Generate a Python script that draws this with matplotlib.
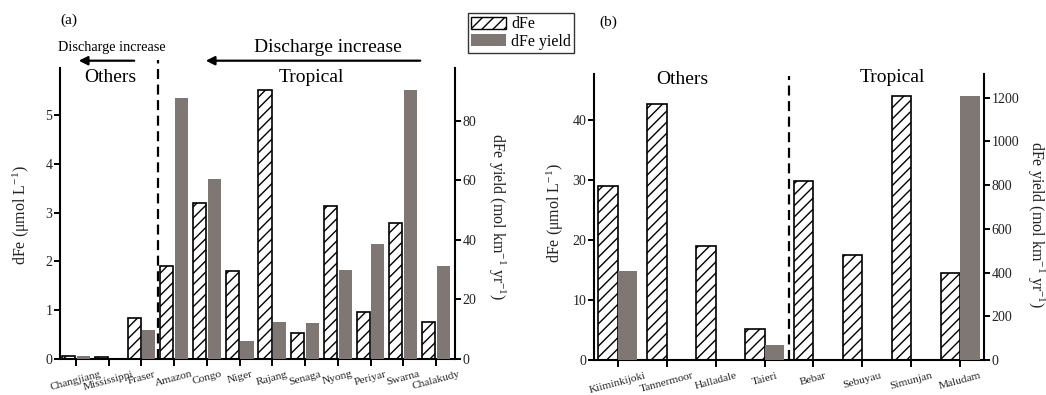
import numpy as np
import matplotlib
matplotlib.use("Agg")
import matplotlib.pyplot as plt
from matplotlib.patches import Patch

plt.rcParams['font.family'] = ['Liberation Serif', 'DejaVu Serif']
plt.rcParams['mathtext.fontset'] = 'custom'
plt.rcParams['mathtext.rm'] = 'Liberation Serif'
plt.rcParams['mathtext.it'] = 'Liberation Serif:italic'
plt.rcParams['hatch.linewidth'] = 1.0

# ---------------- data ----------------
rivers_a = ["Changjiang", "Mississippi", "Fraser", "Amazon", "Congo", "Niger",
            "Rajang", "Senaga", "Nyong", "Periyar", "Swarna", "Chalakudy"]
dfe_a = [0.05, 0.04, 0.83, 1.90, 3.20, 1.79, 5.51, 0.53, 3.13, 0.95, 2.79, 0.75]
yield_a = [0.8, 0.0, 9.6, 87.9, 60.6, 5.8, 12.4, 11.9, 29.9, 38.5, 90.6, 31.3]

rivers_b = ["Kiiminkijoki", "Tannermoor", "Halladale", "Taieri",
            "Bebar", "Sebuyau", "Simunjan", "Maludam"]
dfe_b = [29.1, 42.7, 19.0, 5.1, 29.8, 17.5, 44.1, 14.5]
yield_b = [408, np.nan, np.nan, 67, np.nan, np.nan, np.nan, 1209]

left_ticks_a = [0, 1, 2, 3, 4, 5]
right_ticks_a = [0, 20, 40, 60, 80]
left_ticks_b = [0, 10, 20, 30, 40]
right_ticks_b = [0, 200, 400, 600, 800, 1000, 1200]

GRAY = '#7e7774'
TXT = '#222222'
W, H = 1046, 395

fig = plt.figure(figsize=(W / 100, H / 100), dpi=100)
fig.patch.set_facecolor('white')


def px(x0, y0, x1, y1):
    return [x0 / W, 1 - y1 / H, (x1 - x0) / W, (y1 - y0) / H]


def setup(ax, ax2):
    for s in ['top', 'right']:
        ax.spines[s].set_visible(False)
    for s in ['top', 'left', 'bottom']:
        ax2.spines[s].set_visible(False)
    for a in (ax, ax2):
        for s in a.spines.values():
            s.set_linewidth(1.5)
        a.tick_params(axis='y', direction='out', length=4, width=1.4, labelsize=10,
                      labelcolor=TXT, pad=1.5)
    ax.tick_params(axis='x', direction='out', length=5, width=1.4, pad=3)


def panel(rect, names, dfe, yld, off, width, xlim, ylim_l, ylim_r, lt, rt, split, dash_top):
    ax = fig.add_axes(rect)
    ax2 = ax.twinx()
    x = np.arange(len(names))
    ax.bar(x - off, dfe, width, facecolor='white', edgecolor='black',
           hatch='///', linewidth=1.2, zorder=2)
    ax2.bar(x + off, yld, width, color=GRAY, linewidth=0, zorder=2)
    ax.set_xlim(*xlim)
    ax.set_ylim(0, ylim_l)
    ax2.set_ylim(0, ylim_r)
    ax.set_yticks(lt)
    ax2.set_yticks(rt)
    ax.set_xticks(x)
    ax.set_xticklabels(names, rotation=15, ha='center', fontsize=8.2, color=TXT)
    setup(ax, ax2)
    ax.axvline(split, 0, dash_top, color='black', lw=1.6,
               linestyle=(0, (4.5, 2.5)), clip_on=False, zorder=3)
    return ax, ax2


ax_a, ax_a2 = panel(px(60, 68, 455, 358.5), rivers_a, dfe_a, yield_a, 0.225, 0.40,
                    (-0.49, 11.58), 5.97, 97.9, left_ticks_a, right_ticks_a, 2.5, 1.028)
ax_b, ax_b2 = panel(px(594, 74, 984, 360), rivers_b, dfe_b, yield_b, 0.2, 0.40,
                    (-0.49, 7.49), 47.7, 1308, left_ticks_b, right_ticks_b, 3.5, 0.993)

ylab_l = 'dFe (μmol L$^{-1}$)'
ylab_r = 'dFe yield (mol km$^{-1}$ yr$^{-1}$)'
fig.text(21 / W, 1 - 215 / H, ylab_l, rotation=90, ha='center', va='center', fontsize=11.5, color=TXT)
fig.text(497 / W, 1 - 217 / H, ylab_r, rotation=-90, ha='center', va='center', fontsize=11.5, color=TXT)
fig.text(555 / W, 1 - 213 / H, ylab_l, rotation=90, ha='center', va='center', fontsize=11.5, color=TXT)
fig.text(1036 / W, 1 - 225 / H, ylab_r, rotation=-90, ha='center', va='center', fontsize=11.5, color=TXT)


def ftext(x, y, s, size):
    fig.text(x / W, 1 - y / H, s, ha='center', va='center', fontsize=size, color='black')


ftext(68.5, 20, '(a)', 11)
ftext(608, 22, '(b)', 11)
ftext(112, 47, 'Discharge increase', 10.3)
ftext(328, 47, 'Discharge increase', 14)
ftext(110, 78, 'Others', 14)
ftext(311, 78, 'Tropical', 14)
ftext(682, 80, 'Others', 14)
ftext(892, 78, 'Tropical', 14)


def farrow(x0, x1, y):
    fig.add_artist(matplotlib.patches.FancyArrowPatch(
        (x0 / W, 1 - y / H), (x1 / W, 1 - y / H), transform=fig.transFigure,
        arrowstyle='-|>', mutation_scale=13, lw=1.6, color='black'))


farrow(137, 76, 60.7)
farrow(423, 203, 60.7)

handles = [Patch(facecolor='white', edgecolor='black', hatch='///', linewidth=1.0, label='dFe'),
           Patch(facecolor=GRAY, edgecolor='none', label='dFe yield')]
leg = fig.legend(handles=handles, loc='upper left', bbox_to_anchor=(468 / W, 1 - 13 / H),
                 borderaxespad=0, frameon=True, fancybox=False, fontsize=11.5,
                 handlelength=2.2, handleheight=0.8, handletextpad=0.3,
                 borderpad=0.2, labelspacing=0.1)
leg.get_frame().set_edgecolor('black')
leg.get_frame().set_linewidth(1.0)

fig.savefig('out.png', dpi=100, facecolor='white')
